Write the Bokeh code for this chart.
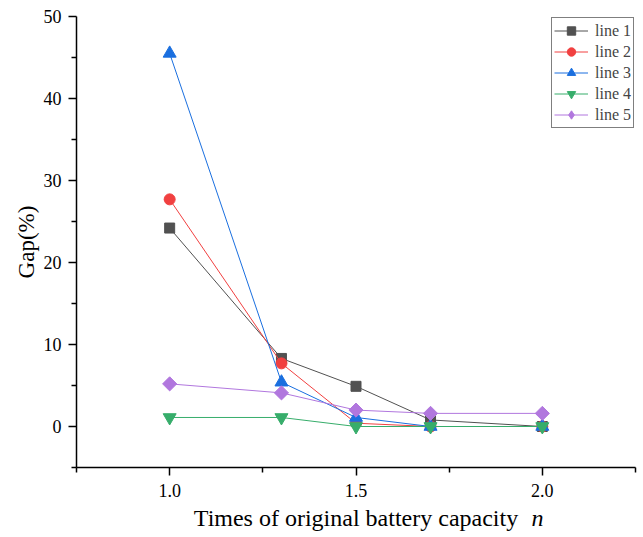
from bokeh.plotting import figure
from bokeh.models import (FixedTicker, Range1d, Legend, PrintfTickFormatter,
                          LinearAxis)
from bokeh.embed import file_html
from bokeh.resources import INLINE

# ---- data ----
capacity = [1.0, 1.3, 1.5, 1.7, 2.0]
line1 = [24.2, 8.3, 4.9, 0.8, 0.0]
line2 = [27.7, 7.7, 0.4, 0.0, 0.0]
line3 = [45.5, 5.4, 1.1, 0.0, 0.0]
line4 = [1.1, 1.1, 0.0, 0.0, 0.0]
line5 = [5.2, 4.1, 2.0, 1.6, 1.6]
series_names = ["line 1", "line 2", "line 3", "line 4", "line 5"]
x_ticks = [1.0, 1.5, 2.0]
x_minor = [0.75, 1.25, 1.75, 2.25]
y_ticks = [0, 10, 20, 30, 40, 50]
y_minor = [-5, 5, 15, 25, 35, 45]
x_title = "Times of original battery capacity"
x_symbol = "n"
x_symbol_pos = 1.987   # where the italic symbol sits, after the title

colors = ["#515151", "#F14040", "#1A6FDF", "#37AD6B", "#B177DE"]
markers = ["square", "circle", "triangle", "inverted_triangle", "square"]
legend_markers = ["square", "circle", "triangle", "inverted_triangle", "diamond"]
angles = [0, 0, 0, 0, 0.7854]
sizes = [10, 11, 13, 13, 10]
SERIF = "Liberation Serif"

p = figure(width=643, height=537, output_backend="svg", toolbar_location=None,
           x_range=Range1d(0.75, 2.25), y_range=Range1d(-5, 50),
           min_border_left=76, min_border_right=8, min_border_top=16,
           min_border_bottom=70)
p.outline_line_color = None
p.grid.grid_line_color = None
p.background_fill_color = "white"
p.border_fill_color = "white"

p.xaxis.ticker = FixedTicker(ticks=x_ticks, minor_ticks=x_minor)
p.xaxis.formatter = PrintfTickFormatter(format="%.1f")
p.yaxis.ticker = FixedTicker(ticks=y_ticks, minor_ticks=y_minor)
for ax in (p.xaxis, p.yaxis):
    ax.axis_line_color = "black"
    ax.axis_line_width = 1.5
    ax.major_tick_line_color = "black"
    ax.minor_tick_line_color = "black"
    ax.major_tick_line_width = 1.5
    ax.minor_tick_line_width = 1.5
    ax.major_tick_out = 8
    ax.major_tick_in = 0
    ax.minor_tick_out = 5
    ax.minor_tick_in = 0
    ax.major_label_text_font = SERIF
    ax.major_label_text_font_size = "18px"
    ax.major_label_text_color = "black"
    ax.axis_label_text_font = SERIF
    ax.axis_label_text_font_style = "normal"
    ax.axis_label_text_color = "black"
p.yaxis.major_label_standoff = 7
p.xaxis.major_label_standoff = 8
p.yaxis.axis_label = "Gap(%)"
p.yaxis.axis_label_text_font_size = "23px"
p.yaxis.axis_label_standoff = 2
p.xaxis.axis_label = x_title
p.xaxis.axis_label_text_font_size = "24px"
p.xaxis.axis_label_standoff = 5

# second, bare axis that only carries the italic symbol "n" on the title row
sym_axis = LinearAxis(ticker=FixedTicker(ticks=[x_symbol_pos], minor_ticks=[]),
                      major_label_overrides={x_symbol_pos: x_symbol},
                      axis_line_color=None, major_tick_line_color=None,
                      minor_tick_line_color=None, major_tick_out=0,
                      major_tick_in=0, minor_tick_out=0, minor_tick_in=0,
                      major_label_standoff=-29,
                      major_label_text_font=SERIF,
                      major_label_text_font_style="italic",
                      major_label_text_font_size="24px",
                      major_label_text_color="black")
p.add_layout(sym_axis, "below")

data = [line1, line2, line3, line4, line5]
items = []
for name, ys, c, m, lm, s, a in zip(series_names, data, colors, markers,
                                    legend_markers, sizes, angles):
    r1 = p.line(capacity, ys, line_color=c, line_width=1)
    r2 = p.scatter(capacity, ys, marker=m, size=s, angle=a,
                   fill_color=c, line_color=c)
    if lm != m:
        # legend-only swatch (rotated squares are not rotated in legends)
        r3 = p.scatter(capacity, ys, marker=lm, size=s, fill_color=c,
                       line_color=c, visible=False)
        items.append((name, [r1, r3]))
    else:
        items.append((name, [r1, r2]))

legend = Legend(items=items, location="top_right")
legend.border_line_color = "black"
legend.border_line_width = 1
legend.background_fill_alpha = 1
legend.label_text_font = SERIF
legend.label_text_font_size = "16px"
legend.glyph_width = 34
legend.glyph_height = 21
legend.label_height = 21
legend.spacing = 0
legend.padding = 2
legend.margin = 1
legend.label_standoff = 7
p.add_layout(legend, "center")

open("out.html", "w").write(file_html(p, INLINE))
